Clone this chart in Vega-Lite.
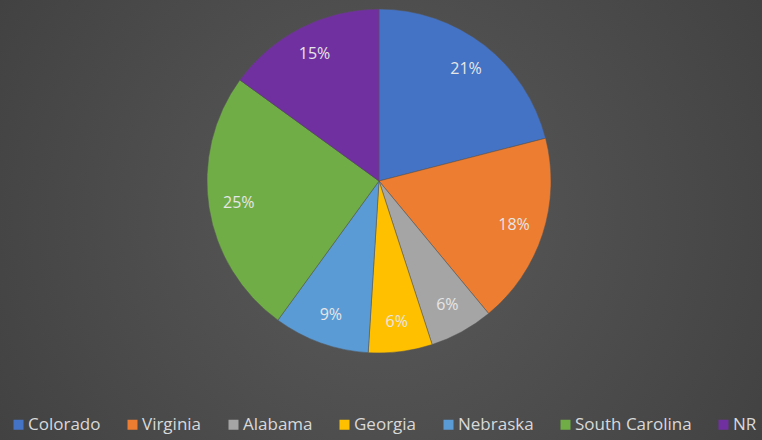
{
  "$schema": "https://vega.github.io/schema/vega-lite/v6.json",
  "autosize": {"type": "none"},
  "width": 762,
  "height": 440,
  "padding": 0,
  "background": "#434343",
  "config": {
    "view": {"stroke": null},
    "font": "Open Sans"
  },
  "datasets": {
    "shares": [
      {"state": "Colorado", "pct": 21, "ord": 1},
      {"state": "Virginia", "pct": 18, "ord": 2},
      {"state": "Alabama", "pct": 6, "ord": 3},
      {"state": "Georgia", "pct": 6, "ord": 4},
      {"state": "Nebraska", "pct": 9, "ord": 5},
      {"state": "South Carolina", "pct": 25, "ord": 6},
      {"state": "NR", "pct": 15, "ord": 7}
    ]
  },
  "layer": [
    {
      "data": {"values": [{"bg": 1}]},
      "mark": {
        "type": "rect",
        "color": {
          "gradient": "radial",
          "x1": 0.5, "y1": 0.5, "r1": 0,
          "x2": 0.5, "y2": 0.5, "r2": 0.72,
          "stops": [
            {"offset": 0, "color": "#5a5a5a"},
            {"offset": 1, "color": "#3c3c3c"}
          ]
        }
      },
      "encoding": {}
    },
    {
      "data": {"name": "shares"},
      "mark": {"type": "arc", "outerRadius": 172, "stroke": "#555555", "strokeWidth": 0.5, "xOffset": -2, "yOffset": -39},
      "encoding": {
        "theta": {"field": "pct", "type": "quantitative", "stack": true},
        "order": {"field": "ord", "type": "quantitative"},
        "color": {
          "field": "state",
          "type": "nominal",
          "sort": ["Colorado", "Virginia", "Alabama", "Georgia", "Nebraska", "South Carolina", "NR"],
          "scale": {
            "domain": ["Colorado", "Virginia", "Alabama", "Georgia", "Nebraska", "South Carolina", "NR"],
            "range": ["#4472C4", "#ED7D31", "#A5A5A5", "#FFC000", "#5B9BD5", "#70AD47", "#7030A0"]
          },
          "legend": {
            "orient": "none",
            "legendX": 10,
            "legendY": 416,
            "direction": "horizontal",
            "title": null,
            "symbolType": "square",
            "symbolSize": 100,
            "symbolStrokeWidth": 0,
            "labelFontSize": 17,
            "labelColor": "#d9d9d9",
            "labelFont": "Open Sans",
            "columnPadding": 23,
            "labelOffset": 1
          }
        }
      }
    },
    {
      "data": {"name": "shares"},
      "transform": [{"calculate": "datum.pct + '%'", "as": "pct_label"}],
      "mark": {"type": "text", "radius": 142, "fontSize": 16, "fill": "#e6e6e6", "xOffset": -2, "yOffset": -39},
      "encoding": {
        "theta": {"field": "pct", "type": "quantitative", "stack": true},
        "order": {"field": "ord", "type": "quantitative"},
        "text": {"field": "pct_label", "type": "nominal"}
      }
    }
  ]
}
